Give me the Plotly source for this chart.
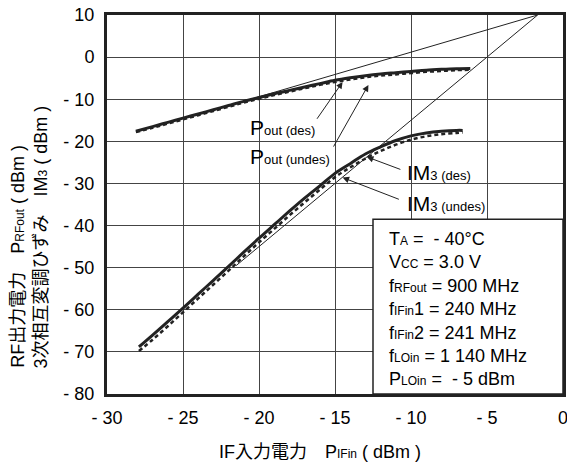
import plotly.graph_objects as go

# ---- data ----
pin_pout = [-28.1, -27, -26, -25, -24, -23, -22, -21, -20, -19, -18, -17, -16,
            -15, -14, -13, -12, -11, -10, -9, -8, -7, -6.1]
pout_des = [-17.6, -16.5, -15.5, -14.5, -13.5, -12.5, -11.5, -10.5, -9.6, -8.7,
            -7.9, -7.1, -6.3, -5.5, -4.9, -4.4, -4.0, -3.7, -3.4, -3.1, -2.9, -2.75, -2.7]
pout_undes = [-17.8, -16.8, -15.8, -14.8, -13.8, -12.8, -11.8, -10.8, -9.9, -9.0,
              -8.2, -7.4, -6.6, -5.9, -5.3, -4.8, -4.4, -4.1, -3.8, -3.5, -3.3, -3.1, -3.0]

pin_im3 = [-27.9, -27, -26, -25, -24, -23, -22, -21, -20, -19, -18, -17, -16,
           -15, -14, -13, -12, -11, -10, -9, -8, -7, -6.6]
im3_des = [-68.8, -66.0, -62.8, -59.6, -56.3, -53.0, -49.7, -46.3, -43.0, -39.8,
           -36.6, -33.5, -30.6, -27.6, -25.3, -23.0, -21.3, -19.8, -18.7, -18.0,
           -17.6, -17.4, -17.4]
im3_undes = [-69.8, -67.1, -63.9, -60.6, -57.3, -54.0, -50.7, -47.3, -44.0, -40.8,
             -37.6, -34.5, -31.5, -28.5, -26.2, -24.1, -22.3, -20.8, -19.6, -18.8,
             -18.3, -18.0, -17.9]

extrap_pout_x = [-23.0, -1.67]
extrap_pout_y = [-12.6, 10.0]
extrap_im3_x = [-21.5, -1.67]
extrap_im3_y = [-49.5, 10.0]

x_ticks = [-30, -25, -20, -15, -10, -5, 0]
x_ticktext = ["- 30", "- 25", "- 20", "- 15", "- 10", "- 5", "0"]
y_ticks = [10, 0, -10, -20, -30, -40, -50, -60, -70, -80]
y_ticktext = ["10", "0", "- 10", "- 20", "- 30", "- 40", "- 50", "- 60", "- 70", "- 80"]

cond_lines = [
    ("T", "A", " =  - 40°C"),
    ("V", "CC", " = 3.0 V"),
    ("f", "RFout", " = 900 MHz"),
    ("f", "IFin", "1 = 240 MHz"),
    ("f", "IFin", "2 = 241 MHz"),
    ("f", "LOin", " = 1 140 MHz"),
    ("P", "LOin", " =  - 5 dBm"),
]

FONT = "Liberation Sans, Arial, Noto Sans CJK JP, sans-serif"
INK = "#222222"


def small(t, px=12):
    return f'<span style="font-size:{px}px">{t}</span>'


fig = go.Figure()

fig.add_trace(go.Scatter(x=extrap_pout_x, y=extrap_pout_y, mode="lines",
                         line=dict(color=INK, width=1), hoverinfo="skip"))
fig.add_trace(go.Scatter(x=extrap_im3_x, y=extrap_im3_y, mode="lines",
                         line=dict(color=INK, width=1), hoverinfo="skip"))
fig.add_trace(go.Scatter(x=pin_pout, y=pout_undes, mode="lines",
                         line=dict(color=INK, width=2.5, dash="4px,3px", shape="spline")))
fig.add_trace(go.Scatter(x=pin_pout, y=pout_des, mode="lines",
                         line=dict(color=INK, width=3, shape="spline")))
fig.add_trace(go.Scatter(x=pin_im3, y=im3_undes, mode="lines",
                         line=dict(color=INK, width=2.5, dash="4px,3px", shape="spline")))
fig.add_trace(go.Scatter(x=pin_im3, y=im3_des, mode="lines",
                         line=dict(color=INK, width=3, shape="spline")))

# condition box
fig.add_shape(type="rect", x0=-12.5, x1=0, y0=-80, y1=-38.5,
              line=dict(color=INK, width=1.5), fillcolor="white", layer="above")
cond_text = "<br>".join(f"{a}{small(b, 12)}{c}" for a, b, c in cond_lines)
fig.add_annotation(x=-11.55, y=-40.4, xref="x", yref="y", text=cond_text,
                   showarrow=False, xanchor="left", yanchor="top", align="left",
                   font=dict(family=FONT, size=18, color="black"))

# curve labels with arrows
labels = [
    ("P" + small("out (des)", 13), -20.7, -16.6, -14.5, -5.9, -16.25, -15.0),
    ("P" + small("out (undes)", 13), -20.7, -23.7, -12.8, -6.6, -15.15, -21.6),
    ("IM" + small("3 (des)", 13), -10.4, -27.5, -12.9, -23.7, -10.6, -26.8),
    ("IM" + small("3 (undes)", 13), -10.4, -34.7, -14.5, -28.6, -10.7, -33.9),
]
for txt, tx, ty, hx, hy, ax, ay in labels:
    fig.add_annotation(x=tx, y=ty, xref="x", yref="y", text=txt, showarrow=False,
                       xanchor="left", yanchor="middle",
                       font=dict(family=FONT, size=21, color="black"))
    fig.add_annotation(x=hx, y=hy, ax=ax, ay=ay, xref="x", yref="y",
                       axref="x", ayref="y", text="", showarrow=True,
                       arrowhead=2, arrowsize=1.3, arrowwidth=1, arrowcolor=INK)

# axis titles
fig.add_annotation(x=0.467, y=-0.153, xref="paper", yref="paper",
                   text="IF入力電力　P" + small("IFin", 12) + " ( dBm )",
                   showarrow=False, xanchor="center", yanchor="middle",
                   font=dict(family=FONT, size=18, color="black"))
fig.add_annotation(x=-0.197, y=0.063, xref="paper", yref="paper",
                   text="RF出力電力　P" + small("RFout", 12) + " ( dBm )",
                   textangle=-90, showarrow=False, xanchor="center", yanchor="bottom",
                   font=dict(family=FONT, size=18, color="black"))
fig.add_annotation(x=-0.145, y=0.063, xref="paper", yref="paper",
                   text="3次相互変調ひずみ　IM" + small("3", 12) + " ( dBm )",
                   textangle=-90, showarrow=False, xanchor="center", yanchor="bottom",
                   font=dict(family=FONT, size=18, color="black"))

fig.update_layout(
    width=567, height=463,
    margin=dict(l=107, r=4, t=15, b=69, autoexpand=False),
    paper_bgcolor="white", plot_bgcolor="white",
    showlegend=False,
    font=dict(family=FONT, size=18, color="black"),
)
fig.update_xaxes(range=[-30, 0], tickvals=x_ticks, ticktext=x_ticktext,
                 showgrid=True, gridcolor="#444444", gridwidth=1,
                 showline=True, linecolor=INK, linewidth=3, mirror=True,
                 ticks="", zeroline=False, ticklabelstandoff=5, automargin=False,
                 ticklabeloverflow="allow")
fig.update_yaxes(range=[-80, 10], tickvals=y_ticks, ticktext=y_ticktext,
                 showgrid=True, gridcolor="#444444", gridwidth=1,
                 showline=True, linecolor=INK, linewidth=3, mirror=True,
                 ticks="", zeroline=False, ticklabelstandoff=6, automargin=False,
                 ticklabeloverflow="allow")

fig.write_html("out.html", config={"displayModeBar": False},
               post_script="document.body.style.margin='0';"
                           "document.body.style.overflow='hidden';")
